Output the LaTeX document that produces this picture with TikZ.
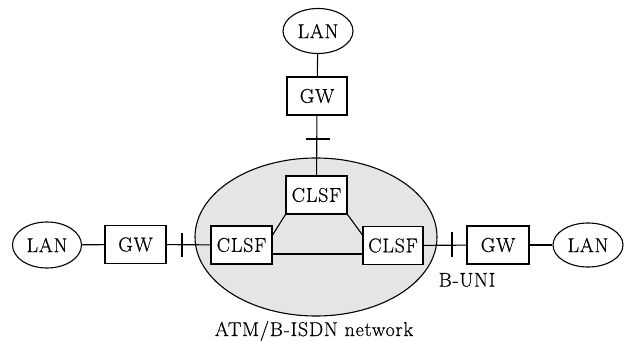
\documentclass[tikz,border=0pt]{standalone}
\usepackage{fontspec}
\setmainfont{Latin Modern Roman}[LetterSpace=4,FakeBold=0.5]
\usetikzlibrary{shapes.geometric}
\begin{document}
\begin{tikzpicture}[x=1pt,y=-1pt,
  every node/.style={font=\fontsize{20}{24}\selectfont},
  wire/.style={line width=1.1pt},
  lan/.style={draw,line width=1.1pt,ellipse,minimum width=70pt,minimum height=45pt,inner sep=0pt},
  box/.style={draw,line width=1.1pt,fill=white,minimum width=61pt,minimum height=38pt,inner sep=0pt}]
\useasboundingbox (0,0) rectangle (624,342);
% network cloud
\node[draw,line width=1.1pt,ellipse,fill=black!10,minimum width=242pt,minimum height=158pt] (net) at (316,237) {};
\node (netlabel) at (314,331) {ATM/B-ISDN network};
% top branch
\node[lan] (lant) at (318,31) {LAN};
\node[box,minimum width=60pt] (gwt) at (317,96) {GW};
\node[box] (ct) at (316.5,195) {CLSF};
% left branch
\node[lan,minimum width=69pt,minimum height=46pt] (lanl) at (47,245) {LAN};
\node[box] (gwl) at (135.5,244.5) {GW};
\node[box] (cl) at (241.5,245) {CLSF};
% right branch
\node[box,minimum width=60pt] (cr) at (393,245.5) {CLSF};
\node[box,minimum width=62pt] (gwr) at (498,245) {GW};
\node[lan,minimum width=70pt,minimum height=44pt] (lanr) at (588,245) {LAN};
\node (buni) at (467,280) {B-UNI};
% links
\draw[wire] (lant) -- (gwt);
\draw[wire] (gwt) -- (ct);
\draw[wire] (lanl) -- (gwl);
\draw[wire] (gwl) -- (cl);
\draw[wire] (cr) -- (gwr);
\draw[wire] (gwr) -- (lanr);
\draw[wire] (cl.east |- 0,254) coordinate (clh) -- (cr.west |- 0,254) coordinate (crh);
\draw[wire] (ct.south west) -- (cl.east |- 0,235) coordinate (cld);
\draw[wire] (ct.south east) -- (cr.west |- 0,235) coordinate (crd);
% interface ticks
\coordinate (tt1) at (306,139); \coordinate (tt2) at (330,139);
\draw[wire] (tt1) -- (tt2);
\coordinate (tl1) at (182,233); \coordinate (tl2) at (182,257);
\draw[wire] (tl1) -- (tl2);
\coordinate (tr1) at (452,232); \coordinate (tr2) at (452,257);
\draw[wire] (tr1) -- (tr2);
\end{tikzpicture}
\end{document}
